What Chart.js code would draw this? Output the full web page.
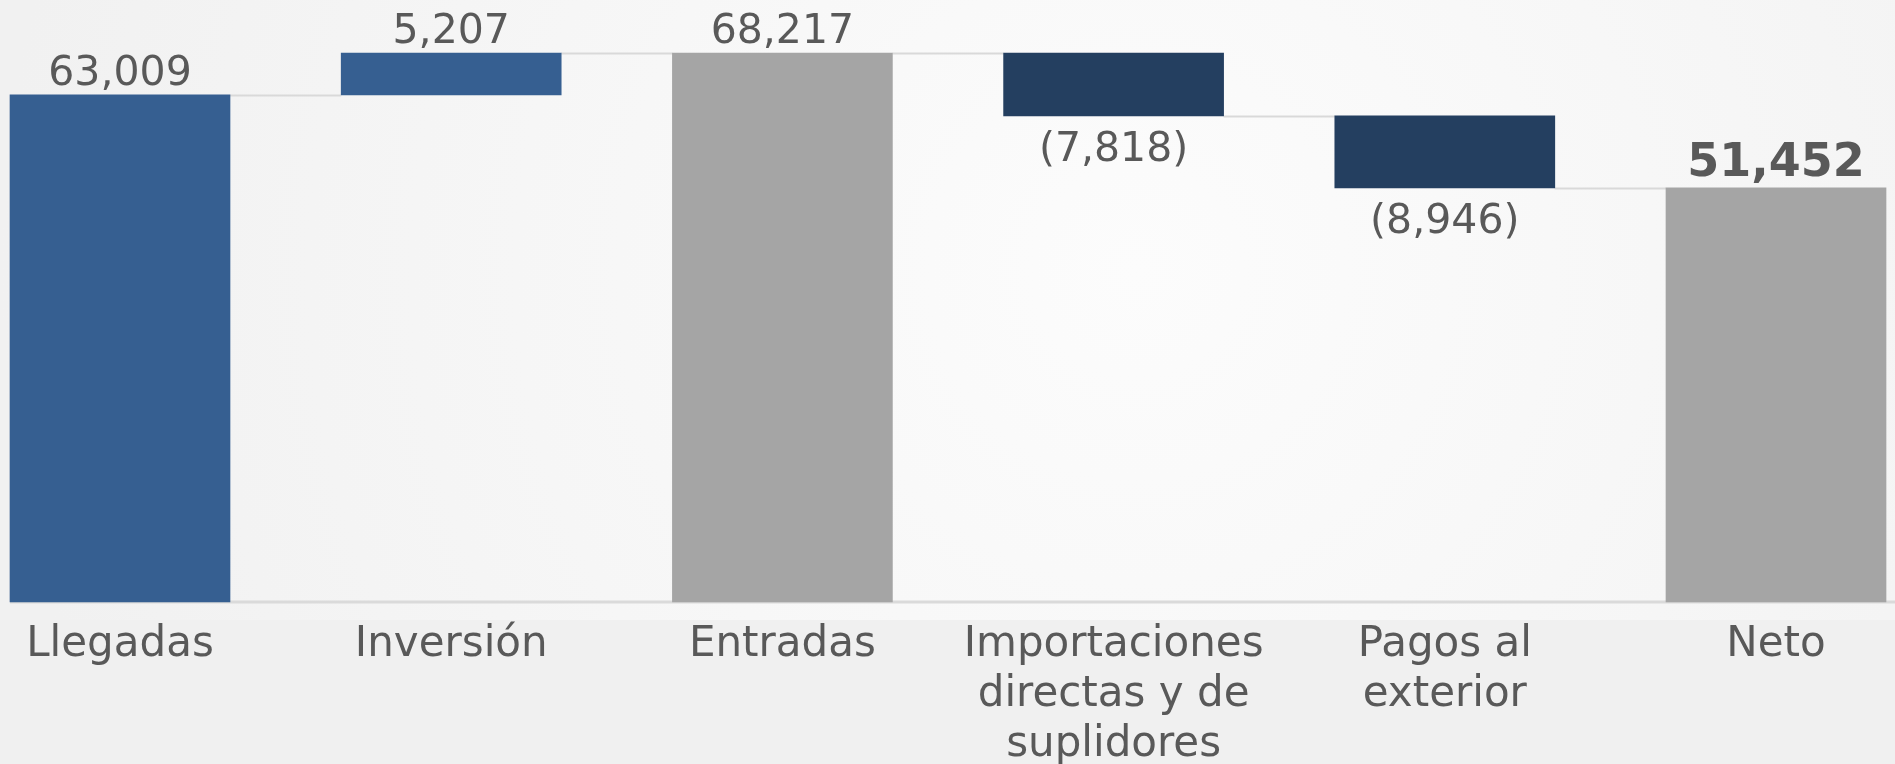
<!DOCTYPE html>
<html lang="es">
<head>
<meta charset="utf-8">
<title>Flujo neto</title>
<script src="https://cdn.jsdelivr.net/npm/chart.js@4/dist/chart.umd.min.js"></script>
<style>
  html, body { margin: 0; padding: 0; background: #f0f0f0; overflow: hidden; }
  #wrap { width: 1895px; height: 764px; position: relative; }
</style>
</head>
<body>
<div id="wrap"><canvas id="grafico"></canvas></div>
<script>
// ==================== DATOS ====================
const categorias = ['Llegadas', 'Inversión', 'Entradas', ['Importaciones', 'directas y de', 'suplidores'], ['Pagos al', 'exterior'], 'Neto'];
const valores = [63009, 5207, 68217, -7818, -8946, 51452];
const esTotal = [true, false, true, false, false, true];
const colores = ['#365f91', '#365f91', '#a5a5a5', '#243f60', '#243f60', '#a5a5a5'];
const ejeMaximo = 74800;

const FUENTE = "'DejaVu Sans', sans-serif";
const GRIS_TEXTO = '#595959';

// rangos flotantes de la cascada
function calcularRangos() {
    const rangos = [];
    let nivel = 0;
    valores.forEach((v, i) => {
        if (esTotal[i]) {
            rangos.push([0, v]);
            nivel = v;
        } else {
            rangos.push([nivel, nivel + v]);
            nivel += v;
        }
    });
    return rangos;
}

function formatear(v) {
    const txt = Math.abs(v).toLocaleString('en-US');
    return v < 0 ? '(' + txt + ')' : txt;
}

// ==================== PLUGINS ====================
const fondo = {
    id: 'fondo',
    beforeDraw(chart) {
        const { ctx, width, height, chartArea } = chart;
        ctx.save();
        ctx.fillStyle = '#f0f0f0';
        ctx.fillRect(0, 0, width, height);
        const g = ctx.createRadialGradient(width * 0.6, chartArea.bottom * 0.45, 0, width * 0.6, chartArea.bottom * 0.45, width * 0.6);
        g.addColorStop(0, '#fcfcfc');
        g.addColorStop(1, '#f1f1f1');
        ctx.fillStyle = g;
        ctx.fillRect(0, 0, width, chartArea.bottom + 18);
        ctx.restore();
    }
};

const conectores = {
    id: 'conectores',
    beforeDatasetsDraw(chart) {
        const { ctx, chartArea, width } = chart;
        const meta = chart.getDatasetMeta(0);
        const y = chart.scales.y;
        const rangos = chart.data.datasets[0].data;
        ctx.save();
        ctx.strokeStyle = '#d9d9d9';
        ctx.lineWidth = 2;
        ctx.beginPath();
        for (let i = 0; i < meta.data.length - 1; i++) {
            const a = meta.data[i].getProps(['x', 'width'], true);
            const b = meta.data[i + 1].getProps(['x', 'width'], true);
            const py = Math.round(y.getPixelForValue(rangos[i][1])) + 0.5;
            ctx.moveTo(a.x + a.width / 2, py);
            ctx.lineTo(b.x - b.width / 2, py);
        }
        ctx.stroke();
        // linea base
        const primero = meta.data[0].getProps(['x', 'width'], true);
        ctx.strokeStyle = '#dadada';
        ctx.lineWidth = 3;
        ctx.beginPath();
        ctx.moveTo(primero.x - primero.width / 2, chartArea.bottom);
        ctx.lineTo(width, chartArea.bottom);
        ctx.stroke();
        ctx.restore();
    }
};

const etiquetas = {
    id: 'etiquetas',
    afterDatasetsDraw(chart) {
        const { ctx } = chart;
        const meta = chart.getDatasetMeta(0);
        ctx.save();
        ctx.fillStyle = GRIS_TEXTO;
        ctx.textAlign = 'center';
        ctx.textBaseline = 'alphabetic';
        meta.data.forEach((barra, i) => {
            const p = barra.getProps(['x', 'y', 'base'], true);
            const arriba = Math.min(p.y, p.base);
            const abajo = Math.max(p.y, p.base);
            const ultimo = i === meta.data.length - 1;
            ctx.font = ultimo ? "bold 46px " + FUENTE : "41px " + FUENTE;
            if (valores[i] < 0) {
                ctx.fillText(formatear(valores[i]), p.x, abajo + 45);
            } else {
                ctx.fillText(formatear(valores[i]), p.x, arriba - (ultimo ? 12 : 10));
            }
        });
        ctx.restore();
    }
};

// ==================== GRAFICO ====================
const chart = new Chart(document.getElementById('grafico'), {
    type: 'bar',
    data: {
        labels: categorias,
        datasets: [{
            data: calcularRangos(),
            backgroundColor: colores,
            borderWidth: 0,
            barThickness: 220,
            clip: false
        }]
    },
    options: {
        responsive: true,
        maintainAspectRatio: false,
        animation: false,
        layout: {
            padding: { left: 120, right: 119, top: 0, bottom: 0 }
        },
        plugins: {
            legend: { display: false },
            tooltip: { enabled: false }
        },
        scales: {
            x: {
                offset: false,
                grid: { display: false, drawTicks: false },
                border: { display: false },
                afterFit(scale) {
                    scale.height = 162;
                },
                ticks: {
                    color: GRIS_TEXTO,
                    padding: 18,
                    maxRotation: 0,
                    autoSkip: false,
                    font: { family: FUENTE, size: 42, lineHeight: 1.19 }
                }
            },
            y: {
                display: false,
                min: 0,
                max: ejeMaximo
            }
        }
    },
    plugins: [fondo, conectores, etiquetas]
});
</script>
</body>
</html>
